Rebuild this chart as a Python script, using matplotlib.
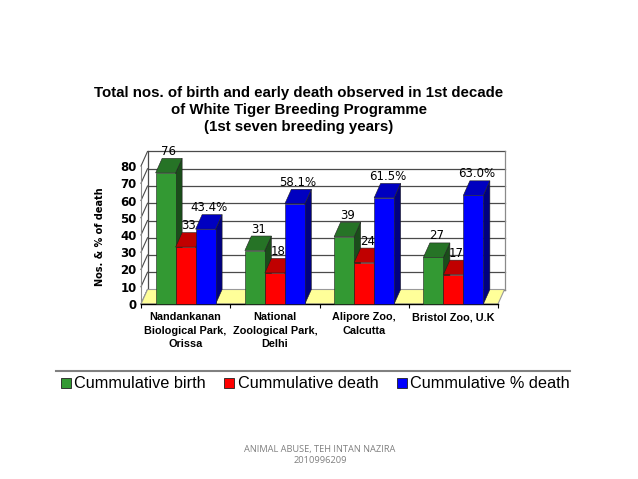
import matplotlib
matplotlib.use("Agg")
import matplotlib.pyplot as plt
from matplotlib.patches import Polygon
from matplotlib.lines import Line2D

# ---- data ----
categories = ["Nandankanan\nBiological Park,\nOrissa",
              "National\nZoological Park,\nDelhi",
              "Alipore Zoo,\nCalcutta",
              "Bristol Zoo, U.K"]
birth = [76, 31, 39, 27]
death = [33, 18, 24, 17]
pct_death = [43.4, 58.1, 61.5, 63.0]
series_names = ["Cummulative birth", "Cummulative death", "Cummulative % death"]
yticks = [0, 10, 20, 30, 40, 50, 60, 70, 80]

# ---- style ----
front_cols = ["#339933", "#ff0000", "#0000ff"]
top_cols = ["#267326", "#c00000", "#0000c0"]
side_cols = ["#1a4d1a", "#800000", "#000080"]

W, H = 638, 479
fig = plt.figure(figsize=(W / 100, H / 100), dpi=100)
fig.patch.set_facecolor("white")

ax_l, ax_r, ax_t, ax_b = 141, 498, 166, 304
ax = fig.add_axes([ax_l / W, (H - ax_b) / H, (ax_r - ax_l) / W, (ax_b - ax_t) / H])
ax.set_xlim(0, 4)
ax.set_ylim(0, 80)
ax.set_facecolor("none")
for s in ax.spines.values():
    s.set_visible(False)

px_x = (ax_r - ax_l) / 4.0
px_y = (ax_b - ax_t) / 80.0
DX = 6.5 / px_x
DY = 14.5 / px_y

# back wall gridlines
for v in yticks:
    ax.plot([DX, 4 + DX], [v + DY, v + DY], color="#4a4a4a", lw=0.9, zorder=0.5, clip_on=False)
    ax.plot([0, DX], [v, v + DY], color="#4a4a4a", lw=0.8, zorder=0.5, clip_on=False)
ax.plot([DX, DX], [DY, 80 + DY], color="#4a4a4a", lw=0.9, zorder=0.5, clip_on=False)
ax.plot([4 + DX, 4 + DX], [DY, 80 + DY], color="#8a8a8a", lw=0.9, zorder=0.5, clip_on=False)
ax.plot([0, 0], [0, 80], color="#8a8a8a", lw=0.8, zorder=0.5, clip_on=False)

# floor
floor = Polygon([(0, 0), (4, 0), (4 + DX, DY), (DX, DY)], closed=True,
                facecolor="#ffff99", edgecolor="#9a9a9a", lw=0.8, zorder=1, clip_on=False)
ax.add_patch(floor)
ax.plot([0, 4], [0, 0], color="black", lw=1.0, zorder=1.5, clip_on=False)

# bars
bw = 0.224
all_series = [birth, death, pct_death]
for si, vals in enumerate(all_series):
    xs = [i + 0.5 + (si - 1) * bw for i in range(len(categories))]
    bars = ax.bar(xs, vals, width=bw, color=front_cols[si], edgecolor="#202020",
                  linewidth=0.4, clip_on=False)
    for gi, (rect, v) in enumerate(zip(bars, vals)):
        k = gi * 3 + si
        z = 2 + k * 0.01
        x0 = rect.get_x()
        x1 = x0 + rect.get_width()
        side = Polygon([(x1, 0), (x1 + DX, DY), (x1 + DX, v + DY), (x1, v)], closed=True,
                       facecolor=side_cols[si], edgecolor="#202020", lw=0.4,
                       zorder=z, clip_on=False)
        top = Polygon([(x0, v), (x1, v), (x1 + DX, v + DY), (x0 + DX, v + DY)], closed=True,
                      facecolor=top_cols[si], edgecolor="#202020", lw=0.4,
                      zorder=z, clip_on=False)
        ax.add_patch(side)
        ax.add_patch(top)
        rect.set_zorder(z + 0.005)
        label = f"{v:.1f}%" if si == 2 else f"{v:d}"
        ax.text((x0 + x1) / 2 + DX / 2, v + DY + 0.3, label, ha="center", va="bottom",
                fontsize=8.5, family="DejaVu Sans", color="black", zorder=10, clip_on=False)

# axes ticks
ax.set_yticks(yticks)
ax.set_yticklabels([str(t) for t in yticks], fontsize=8.5, fontweight="bold", family="DejaVu Sans")
ax.tick_params(axis="y", length=0, pad=3)
ax.set_xticks([i + 0.5 for i in range(len(categories))])
ax.set_xticklabels(categories, fontsize=7.8, fontweight="bold", family="Liberation Sans",
                   linespacing=1.42)
ax.tick_params(axis="x", length=0, pad=6)
ax.set_xticks([0, 1, 2, 3, 4], minor=True)
ax.tick_params(axis="x", which="minor", length=3, direction="out", color="black", width=0.8)

ax.text(-0.115, 0.49, "Nos. & % of death", transform=ax.transAxes, rotation=90,
        ha="center", va="center", fontsize=7, fontweight="bold", family="DejaVu Sans")

# title
fig.text(299 / W, (H - 110) / H,
         "Total nos. of birth and early death observed in 1st decade\n"
         "of White Tiger Breeding Programme\n(1st seven breeding years)",
         ha="center", va="center", fontsize=10.8, fontweight="bold",
         family="Liberation Sans", linespacing=1.23)

# separator line
fig.add_artist(Line2D([56 / W, 570 / W], [(H - 370.5) / H] * 2, color="#808080", lw=1.5))

# legend
handles = [Line2D([], [], marker="s", ls="", markersize=6.5, markerfacecolor=c,
                  markeredgecolor="#202020", markeredgewidth=0.6) for c in front_cols]
fig.legend(handles, series_names, ncol=3, loc="center", bbox_to_anchor=(315 / W, (H - 384) / H),
           frameon=False, handlelength=0.7, handletextpad=0.17,
           columnspacing=1.1, prop={"family": "Liberation Sans", "size": 11.7})

# footer
fig.text(320 / W, (H - 455) / H, "ANIMAL ABUSE, TEH INTAN NAZIRA\n2010996209",
         ha="center", va="center", fontsize=6.7, color="#808080", family="Open Sans",
         linespacing=1.4)

fig.savefig("out.png", dpi=100)
